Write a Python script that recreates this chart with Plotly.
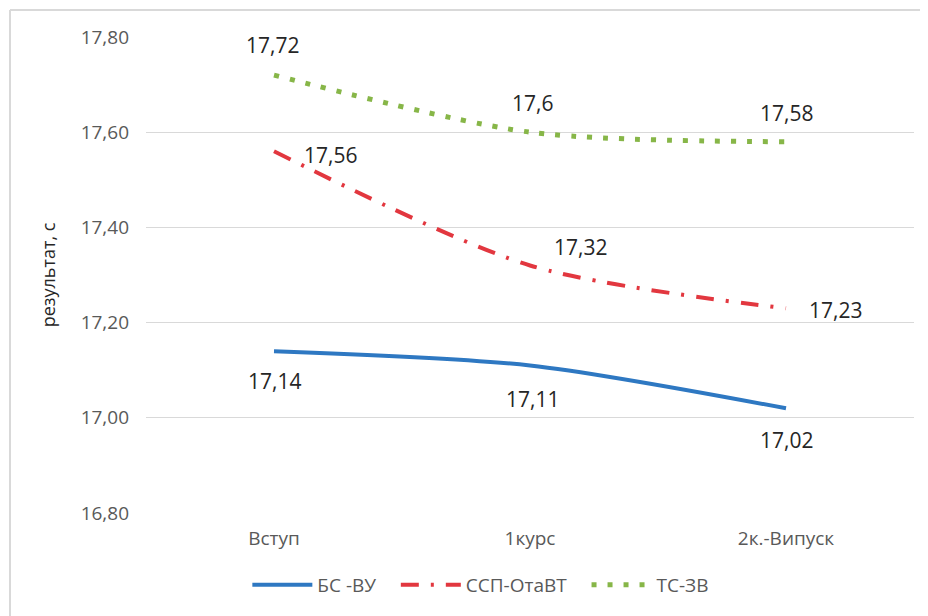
import plotly.graph_objects as go

categories = ["Вступ", "1курс", "2к.-Випуск"]
series_names = ["БС -ВУ", "ССП-ОтаВТ", "ТС-ЗВ"]
bs_vu = [17.14, 17.11, 17.02]
ssp_otavt = [17.56, 17.32, 17.23]
ts_zv = [17.72, 17.60, 17.58]
labels_bs = ["17,14", "17,11", "17,02"]
labels_ssp = ["17,56", "17,32", "17,23"]
labels_ts = ["17,72", "17,6", "17,58"]
y_ticks = [16.8, 17.0, 17.2, 17.4, 17.6, 17.8]
y_ticktext = ["16,80", "17,00", "17,20", "17,40", "17,60", "17,80"]

W, H = 928, 616
ML, MR, MT, MB = 138, 22, 29, 111
PW, PH = W - ML - MR, H - MT - MB
pad = "\u00a0" * 3

fig = go.Figure()
fig.add_trace(go.Scatter(x=categories, y=bs_vu, name=series_names[0] + pad, mode="lines",
                         line=dict(color="#2E78C2", width=4, shape="spline", smoothing=0.8)))
fig.add_trace(go.Scatter(x=categories, y=ssp_otavt, name=series_names[1] + pad, mode="lines",
                         line=dict(color="#E2373F", width=4, shape="spline", smoothing=0.8,
                                   dash="18px,12px,3px,12px")))
fig.add_trace(go.Scatter(x=categories, y=ts_zv, name=series_names[2], mode="lines",
                         line=dict(color="#87B648", width=5, shape="spline", smoothing=0.8,
                                   dash="5px,11px")))

offsets_bs = [(0, -30), (2, -34), (0, -32)]
offsets_ssp = [(56, -4), (50, 18), (49, -2)]
offsets_ts = [(-2, 30), (2, 29), (0, 29)]
for vals, labs, offs in [(bs_vu, labels_bs, offsets_bs),
                         (ssp_otavt, labels_ssp, offsets_ssp),
                         (ts_zv, labels_ts, offsets_ts)]:
    for c, v, t, (dx, dy) in zip(categories, vals, labs, offs):
        fig.add_annotation(x=c, y=v, text=t, showarrow=False, xshift=dx, yshift=dy,
                           font=dict(family="Open Sans", size=21, color="#262626"))

# outer frame (top and left edges)
fx = (2 - ML) / PW
fy_top = (H - MB - 2) / PH
fy_bot = (H - MB - H - 20) / PH
fig.add_shape(type="line", xref="paper", yref="paper", x0=fx, x1=(W - ML) / PW + 0.02,
              y0=fy_top, y1=fy_top, line=dict(color="#D9D9D9", width=2))
fig.add_shape(type="line", xref="paper", yref="paper", x0=fx, x1=fx,
              y0=fy_bot, y1=fy_top, line=dict(color="#D9D9D9", width=2))

fig.update_layout(
    width=W, height=H,
    margin=dict(l=ML, r=MR, t=MT, b=MB),
    paper_bgcolor="white", plot_bgcolor="white",
    font=dict(family="Open Sans", color="#595959"),
    showlegend=True,
    legend=dict(orientation="h", x=0.436, xanchor="center", y=-0.151, yanchor="middle",
                font=dict(size=19, color="#595959"), itemwidth=60, traceorder="normal"),
    xaxis=dict(range=[-0.5, 2.5], showgrid=False, zeroline=False, showline=False,
               tickfont=dict(size=19, color="#595959"), ticks="", ticklabelstandoff=12),
    yaxis=dict(range=[16.8, 17.8], tickvals=y_ticks, ticktext=y_ticktext,
               showgrid=True, gridcolor="#D9D9D9", gridwidth=1, zeroline=False, showline=False,
               tickfont=dict(size=19, color="#595959"), ticks="", ticklabelstandoff=16,
               title=dict(text="результат, с", font=dict(size=18, color="#262626"), standoff=20)),
)

fig.write_html("out.html")
